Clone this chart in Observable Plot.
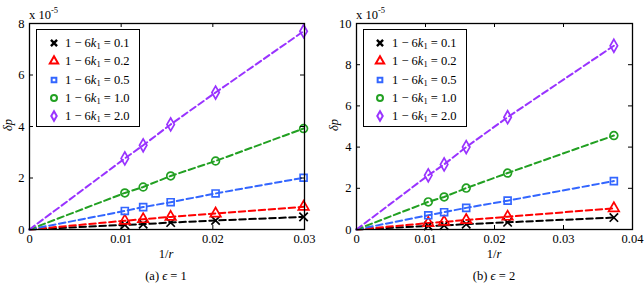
<!DOCTYPE html>
<html><head><meta charset="utf-8">
<script src="https://cdn.jsdelivr.net/npm/d3@7"></script>
<script src="https://cdn.jsdelivr.net/npm/@observablehq/plot@0.6"></script>
<style>
body{margin:0;background:#fff;font-family:"Liberation Serif","Times New Roman","DejaVu Serif",serif;color:#000;}
#wrap{position:relative;width:644px;height:286px;overflow:hidden;background:#fff;}
.panel{position:absolute;top:0;}
.panel text{font-family:"Liberation Serif","Times New Roman","DejaVu Serif",serif;}
.t{position:absolute;font-size:12.5px;white-space:nowrap;line-height:1;}
.legend{position:absolute;border:1.3px solid #000;background:#fff;box-sizing:border-box;}
.row{position:absolute;left:0;height:18px;font-size:12.5px;white-space:nowrap;}
.row svg{position:absolute;top:0;}
.row span{position:absolute;top:2px;}
sub{font-size:8.5px;vertical-align:-2px;}
sup{font-size:8.5px;vertical-align:6px;}
</style></head>
<body><div id="wrap"></div>
<script>
// ----- data (δp in units of 1e-5) -----
const seriesNames = ["0.1", "0.2", "0.5", "1.0", "2.0"];
const seriesColors = ["#000000", "#ff0000", "#3366ff", "#22a022", "#9933ff"];
const seriesSymbols = ["times", "triangle", "square", "circle", "diamond"];

// panel (a) epsilon = 1
const xA = [0, 0.0104, 0.0124, 0.0154, 0.0203, 0.0299];
const yA_01 = [0, 0.18, 0.21, 0.27, 0.35, 0.49];
const yA_02 = [0, 0.34, 0.40, 0.49, 0.62, 0.88];
const yA_05 = [0, 0.72, 0.87, 1.06, 1.40, 2.01];
const yA_10 = [0, 1.42, 1.65, 2.08, 2.66, 3.92];
const yA_20 = [0, 2.76, 3.27, 4.08, 5.32, 7.70];

// panel (b) epsilon = 2
const xB = [0, 0.0104, 0.0127, 0.0159, 0.0219, 0.0373];
const yB_01 = [0, 0.17, 0.20, 0.26, 0.35, 0.58];
const yB_02 = [0, 0.31, 0.37, 0.46, 0.62, 1.03];
const yB_05 = [0, 0.69, 0.84, 1.05, 1.40, 2.35];
const yB_10 = [0, 1.34, 1.58, 2.01, 2.74, 4.56];
const yB_20 = [0, 2.63, 3.16, 4.00, 5.45, 8.92];

const xTicksA = [0, 0.01, 0.02, 0.03];
const yTicksA = [0, 2, 4, 6, 8];
const xTicksB = [0, 0.01, 0.02, 0.03, 0.04];
const yTicksB = [0, 2, 4, 6, 8, 10];

function rows(xs, ys) {
  const out = [];
  ys.forEach((arr, i) => arr.forEach((v, j) => out.push({s: seriesNames[i], x: xs[j], y: v})));
  return out;
}
const dataA = rows(xA, [yA_01, yA_02, yA_05, yA_10, yA_20]);
const dataB = rows(xB, [yB_01, yB_02, yB_05, yB_10, yB_20]);

const W = 322, H = 262, MT = 23, MB = 33;
const innerH = H - MT - MB;
const FONT = "'Liberation Serif', 'Times New Roman', 'DejaVu Serif', serif";

function panel(data, xt, yt, ml, mr) {
  const innerW = W - ml - mr;
  const xf = d => d === 0 ? "0" : d.toFixed(2);
  return Plot.plot({
    width: W, height: H,
    marginLeft: ml, marginRight: mr, marginTop: MT, marginBottom: MB,
    style: {fontFamily: FONT, fontSize: "12.5px", background: "#fff", color: "#000", overflow: "visible"},
    x: {domain: [xt[0], xt[xt.length - 1]], ticks: xt, tickFormat: xf, label: null},
    y: {domain: [yt[0], yt[yt.length - 1]], ticks: yt, label: null},
    color: {domain: seriesNames, range: seriesColors},
    symbol: {domain: seriesNames, range: seriesSymbols},
    marks: [
      Plot.line(data, {x: "x", y: "y", z: "s", stroke: "s", strokeWidth: 2, strokeDasharray: "6.5,3.5"}),
      Plot.dot(data.filter(d => d.x > 0), {x: "x", y: "y", stroke: "s", symbol: "s", r: 3.9, strokeWidth: 1.7, fill: "none"}),
      Plot.frame({stroke: "#000", strokeWidth: 1.3}),
      Plot.ruleX(xt, {stroke: "#000", insetTop: innerH - 4}),
      Plot.ruleX(xt, {stroke: "#000", insetBottom: innerH - 4}),
      Plot.ruleY(yt, {stroke: "#000", insetRight: innerW - 4}),
      Plot.ruleY(yt, {stroke: "#000", insetLeft: innerW - 4}),
      Plot.axisX({ticks: xt, tickFormat: xf, tickSize: 0, tickPadding: 5, label: null, fontFamily: FONT}),
      Plot.axisY({ticks: yt, tickSize: 0, tickPadding: 5, label: null, fontFamily: FONT})
    ]
  });
}

const wrap = document.getElementById("wrap");
function place(el, left) { el.classList.add("panel"); el.style.left = left + "px"; wrap.appendChild(el); }
place(panel(dataA, xTicksA, yTicksA, 29, 18), 0);
place(panel(dataB, xTicksB, yTicksB, 34, 12), 322);

function text(html, x, y, extra) {
  const d = document.createElement("div");
  d.className = "t"; d.innerHTML = html;
  d.style.left = x + "px"; d.style.top = y + "px";
  if (extra) Object.assign(d.style, extra);
  wrap.appendChild(d);
  return d;
}
// labels
for (const [cx, lx, cap] of [[166, 29, "(a) <i>ϵ</i> = 1"], [494, 356, "(b) <i>ϵ</i> = 2"]]) {
  text("x 10<sup>-5</sup>", lx, 6);
  text("1/<i>r</i>", cx, 248, {transform: "translateX(-50%)"});
  text(cap, cx, 270, {transform: "translateX(-50%)"});
}
text("<i>δp</i>", 8, 125, {transform: "translate(-50%,-50%) rotate(-90deg)"});
text("<i>δp</i>", 334, 125, {transform: "translate(-50%,-50%) rotate(-90deg)"});

// legends
const symMap = {times: d3.symbolTimes, triangle: d3.symbolTriangle, square: d3.symbolSquare, circle: d3.symbolCircle, diamond: d3.symbolDiamond};
const symSize = {times: 26, triangle: 30, square: 22, circle: 28, diamond: 26};
function legend(left, mx) {
  const box = document.createElement("div");
  box.className = "legend";
  Object.assign(box.style, {left: left + "px", top: "29px", width: "104px", height: "98px"});
  seriesNames.forEach((name, i) => {
    const r = document.createElement("div");
    r.className = "row";
    r.style.top = (4 + i * 18.3) + "px";
    r.style.width = "100%";
    const sym = seriesSymbols[i];
    const path = d3.symbol(symMap[sym], symSize[sym])();
    r.innerHTML = `<svg width="16" height="18" style="left:${mx - 8}px"><path d="${path}" transform="translate(8,9)" fill="none" stroke="${seriesColors[i]}" stroke-width="${sym === "times" ? 2.4 : 2}"/></svg>` +
      `<span style="left:28px">1 − 6<i>k</i><sub>1</sub> = ${name}</span>`;
    box.appendChild(r);
  });
  wrap.appendChild(box);
}
legend(36, 17);
legend(363, 16);
</script>
</body></html>
